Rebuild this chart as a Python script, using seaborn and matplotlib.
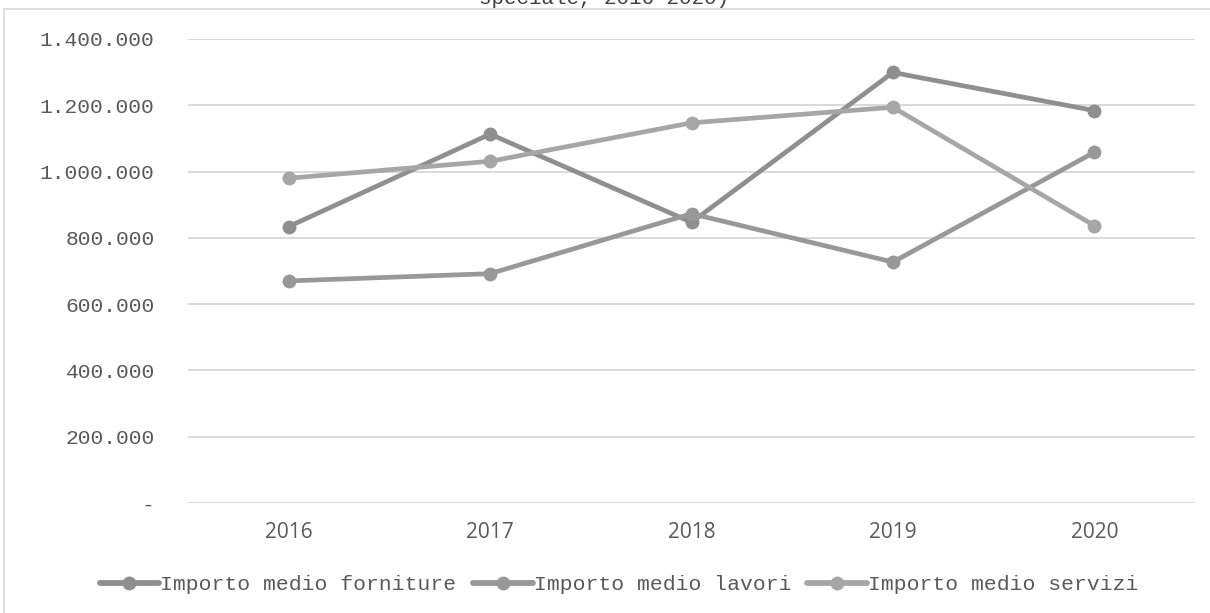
import matplotlib
matplotlib.use("Agg")
import matplotlib.pyplot as plt
from matplotlib.lines import Line2D
from matplotlib.ticker import FuncFormatter
import seaborn as sns
import pandas as pd

years = ["2016", "2017", "2018", "2019", "2020"]
forniture = [834000, 1113000, 847000, 1299000, 1184000]
lavori = [670000, 692000, 873000, 727000, 1058000]
servizi = [980000, 1031000, 1147000, 1194000, 837000]
series_names = ["Importo medio forniture", "Importo medio lavori", "Importo medio servizi"]
y_ticks = [0, 200000, 400000, 600000, 800000, 1000000, 1200000, 1400000]
title_text = "speciale, 2016-2020)"

colors = ["#8f8f8f", "#989898", "#a6a6a6"]

rows = []
for name, vals in zip(series_names, [forniture, lavori, servizi]):
    for yr, v in zip(years, vals):
        rows.append({"Anno": yr, "Valore": v, "Serie": name})
df = pd.DataFrame(rows)

sns.set_theme(style="white")
plt.rcParams["font.family"] = ["Liberation Mono", "DejaVu Sans"]

W, H = 1210, 613
fig = plt.figure(figsize=(W / 100, H / 100), dpi=100)
ax = fig.add_axes([188 / W, 1 - 503 / H, (1195 - 188) / W, (503 - 39) / H])

sns.lineplot(data=df, x="Anno", y="Valore", hue="Serie", palette=colors,
             marker="o", markersize=10, linewidth=3.4, markeredgewidth=0,
             sort=False, ax=ax, legend=False)

ax.set_xlim(-0.5, 4.5)
ax.set_ylim(0, 1400000)
ax.set_yticks(y_ticks)

def fmt(v, pos):
    if v == 0:
        return "-"
    return f"{int(v):,}".replace(",", ".")

ax.yaxis.set_major_formatter(FuncFormatter(fmt))
ax.grid(axis="y", color="#d9d9d9", linewidth=1.4)
ax.grid(axis="x", visible=False)
ax.set_axisbelow(True)
for s in ax.spines.values():
    s.set_visible(False)
ax.set_xlabel("")
ax.set_ylabel("")
ax.tick_params(axis="both", length=0)
ax.tick_params(axis="y", pad=24, labelsize=15.3, labelcolor="#595959")
ax.tick_params(axis="x", pad=14, labelsize=15, labelcolor="#595959")
for lab in ax.get_xticklabels():
    lab.set_fontfamily(["Open Sans", "DejaVu Sans"])

handles = [Line2D([0], [0], color=c, lw=4.2, marker="o", markersize=10, markeredgewidth=0)
           for c in colors]
fig.legend(handles, series_names, loc="center", bbox_to_anchor=(619 / W, 1 - 585 / H),
           ncol=3, frameon=False, fontsize=15.4, handlelength=2.8, handletextpad=0.05,
           columnspacing=0.75, labelcolor="#595959")

# chart frame (partially visible)
fig.add_artist(Line2D([4 / W, 4 / W], [0, 1 - 9 / H], transform=fig.transFigure,
                      color="#d9d9d9", lw=1.2))
fig.add_artist(Line2D([4 / W, 1], [1 - 9 / H, 1 - 9 / H], transform=fig.transFigure,
                      color="#d9d9d9", lw=1.2))

# title, clipped by the top edge as in the original
fig.text(604 / W, 1 - 4 / H, title_text, ha="center", va="baseline", fontsize=15,
         color="#404040")

fig.savefig("out.png", dpi=100, facecolor="white")
